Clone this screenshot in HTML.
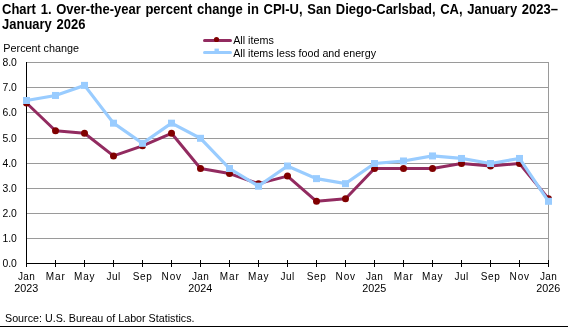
<!DOCTYPE html>
<html><head><meta charset="utf-8"><style>
html,body{margin:0;padding:0;background:#fff;width:568px;height:327px;overflow:hidden}
svg{display:block;will-change:transform}
text{font-family:"Liberation Sans",sans-serif;fill:#000}
.tt{font-weight:bold;font-size:14.4px;word-spacing:1.2px}
.yl{font-size:10.4px}
.xl{font-size:10px}
.lg{font-size:11px}
</style></head><body>
<svg width="568" height="327" viewBox="0 0 568 327">
<line x1="26.5" y1="238.5" x2="548.5" y2="238.5" stroke="#9a9a9a" stroke-width="1"/>
<line x1="26.5" y1="213.5" x2="548.5" y2="213.5" stroke="#9a9a9a" stroke-width="1"/>
<line x1="26.5" y1="188.5" x2="548.5" y2="188.5" stroke="#9a9a9a" stroke-width="1"/>
<line x1="26.5" y1="163.5" x2="548.5" y2="163.5" stroke="#9a9a9a" stroke-width="1"/>
<line x1="26.5" y1="138.5" x2="548.5" y2="138.5" stroke="#9a9a9a" stroke-width="1"/>
<line x1="26.5" y1="112.5" x2="548.5" y2="112.5" stroke="#9a9a9a" stroke-width="1"/>
<line x1="26.5" y1="87.5" x2="548.5" y2="87.5" stroke="#9a9a9a" stroke-width="1"/>
<line x1="26.5" y1="62.5" x2="548.5" y2="62.5" stroke="#9a9a9a" stroke-width="1"/>
<line x1="548.5" y1="62" x2="548.5" y2="263.5" stroke="#9a9a9a" stroke-width="1"/>
<line x1="26.5" y1="62" x2="26.5" y2="264" stroke="#000" stroke-width="1"/>
<line x1="26" y1="263.5" x2="549" y2="263.5" stroke="#000" stroke-width="1"/>
<line x1="26.5" y1="260" x2="26.5" y2="267" stroke="#000" stroke-width="1"/>
<line x1="55.5" y1="260" x2="55.5" y2="267" stroke="#000" stroke-width="1"/>
<line x1="84.5" y1="260" x2="84.5" y2="267" stroke="#000" stroke-width="1"/>
<line x1="113.5" y1="260" x2="113.5" y2="267" stroke="#000" stroke-width="1"/>
<line x1="142.5" y1="260" x2="142.5" y2="267" stroke="#000" stroke-width="1"/>
<line x1="171.5" y1="260" x2="171.5" y2="267" stroke="#000" stroke-width="1"/>
<line x1="200.5" y1="260" x2="200.5" y2="267" stroke="#000" stroke-width="1"/>
<line x1="229.5" y1="260" x2="229.5" y2="267" stroke="#000" stroke-width="1"/>
<line x1="258.5" y1="260" x2="258.5" y2="267" stroke="#000" stroke-width="1"/>
<line x1="287.5" y1="260" x2="287.5" y2="267" stroke="#000" stroke-width="1"/>
<line x1="316.5" y1="260" x2="316.5" y2="267" stroke="#000" stroke-width="1"/>
<line x1="345.5" y1="260" x2="345.5" y2="267" stroke="#000" stroke-width="1"/>
<line x1="374.5" y1="260" x2="374.5" y2="267" stroke="#000" stroke-width="1"/>
<line x1="403.5" y1="260" x2="403.5" y2="267" stroke="#000" stroke-width="1"/>
<line x1="432.5" y1="260" x2="432.5" y2="267" stroke="#000" stroke-width="1"/>
<line x1="461.5" y1="260" x2="461.5" y2="267" stroke="#000" stroke-width="1"/>
<line x1="490.5" y1="260" x2="490.5" y2="267" stroke="#000" stroke-width="1"/>
<line x1="519.5" y1="260" x2="519.5" y2="267" stroke="#000" stroke-width="1"/>
<line x1="548.5" y1="260" x2="548.5" y2="267" stroke="#000" stroke-width="1"/>
<text x="16.9" y="267.20" text-anchor="end" class="yl">0.0</text>
<text x="16.9" y="242.20" text-anchor="end" class="yl">1.0</text>
<text x="16.9" y="217.20" text-anchor="end" class="yl">2.0</text>
<text x="16.9" y="192.20" text-anchor="end" class="yl">3.0</text>
<text x="16.9" y="167.20" text-anchor="end" class="yl">4.0</text>
<text x="16.9" y="142.20" text-anchor="end" class="yl">5.0</text>
<text x="16.9" y="116.20" text-anchor="end" class="yl">6.0</text>
<text x="16.9" y="91.20" text-anchor="end" class="yl">7.0</text>
<text x="16.9" y="66.20" text-anchor="end" class="yl">8.0</text>
<text x="26.30" y="279.8" text-anchor="middle" class="xl" textLength="16.8" lengthAdjust="spacing">Jan</text>
<text x="55.30" y="279.8" text-anchor="middle" class="xl" textLength="19.2" lengthAdjust="spacing">Mar</text>
<text x="84.30" y="279.8" text-anchor="middle" class="xl" textLength="20.4" lengthAdjust="spacing">May</text>
<text x="113.30" y="279.8" text-anchor="middle" class="xl" textLength="13.8" lengthAdjust="spacing">Jul</text>
<text x="142.30" y="279.8" text-anchor="middle" class="xl" textLength="19.0" lengthAdjust="spacing">Sep</text>
<text x="171.30" y="279.8" text-anchor="middle" class="xl" textLength="19.5" lengthAdjust="spacing">Nov</text>
<text x="200.30" y="279.8" text-anchor="middle" class="xl" textLength="16.8" lengthAdjust="spacing">Jan</text>
<text x="229.30" y="279.8" text-anchor="middle" class="xl" textLength="19.2" lengthAdjust="spacing">Mar</text>
<text x="258.30" y="279.8" text-anchor="middle" class="xl" textLength="20.4" lengthAdjust="spacing">May</text>
<text x="287.30" y="279.8" text-anchor="middle" class="xl" textLength="13.8" lengthAdjust="spacing">Jul</text>
<text x="316.30" y="279.8" text-anchor="middle" class="xl" textLength="19.0" lengthAdjust="spacing">Sep</text>
<text x="345.30" y="279.8" text-anchor="middle" class="xl" textLength="19.5" lengthAdjust="spacing">Nov</text>
<text x="374.30" y="279.8" text-anchor="middle" class="xl" textLength="16.8" lengthAdjust="spacing">Jan</text>
<text x="403.30" y="279.8" text-anchor="middle" class="xl" textLength="19.2" lengthAdjust="spacing">Mar</text>
<text x="432.30" y="279.8" text-anchor="middle" class="xl" textLength="20.4" lengthAdjust="spacing">May</text>
<text x="461.30" y="279.8" text-anchor="middle" class="xl" textLength="13.8" lengthAdjust="spacing">Jul</text>
<text x="490.30" y="279.8" text-anchor="middle" class="xl" textLength="19.0" lengthAdjust="spacing">Sep</text>
<text x="519.30" y="279.8" text-anchor="middle" class="xl" textLength="19.5" lengthAdjust="spacing">Nov</text>
<text x="548.30" y="279.8" text-anchor="middle" class="xl" textLength="16.8" lengthAdjust="spacing">Jan</text>
<text x="26.30" y="292.2" text-anchor="middle" class="xl" textLength="24" lengthAdjust="spacingAndGlyphs">2023</text>
<text x="200.30" y="292.2" text-anchor="middle" class="xl" textLength="24" lengthAdjust="spacingAndGlyphs">2024</text>
<text x="374.30" y="292.2" text-anchor="middle" class="xl" textLength="24" lengthAdjust="spacingAndGlyphs">2025</text>
<text x="548.30" y="292.2" text-anchor="middle" class="xl" textLength="24" lengthAdjust="spacingAndGlyphs">2026</text>
<polyline points="26.50,103.02 55.50,130.74 84.50,133.26 113.50,155.94 142.50,145.86 171.50,133.26 200.50,168.54 229.50,173.58 258.50,183.66 287.50,176.10 316.50,201.30 345.50,198.78 374.50,168.54 403.50,168.54 432.50,168.54 461.50,163.50 490.50,166.02 519.50,163.50 548.50,198.78" fill="none" stroke="#922b60" stroke-width="3" stroke-linejoin="round"/>
<circle cx="26.50" cy="103.02" r="3.5" fill="#800000"/>
<circle cx="55.50" cy="130.74" r="3.5" fill="#800000"/>
<circle cx="84.50" cy="133.26" r="3.5" fill="#800000"/>
<circle cx="113.50" cy="155.94" r="3.5" fill="#800000"/>
<circle cx="142.50" cy="145.86" r="3.5" fill="#800000"/>
<circle cx="171.50" cy="133.26" r="3.5" fill="#800000"/>
<circle cx="200.50" cy="168.54" r="3.5" fill="#800000"/>
<circle cx="229.50" cy="173.58" r="3.5" fill="#800000"/>
<circle cx="258.50" cy="183.66" r="3.5" fill="#800000"/>
<circle cx="287.50" cy="176.10" r="3.5" fill="#800000"/>
<circle cx="316.50" cy="201.30" r="3.5" fill="#800000"/>
<circle cx="345.50" cy="198.78" r="3.5" fill="#800000"/>
<circle cx="374.50" cy="168.54" r="3.5" fill="#800000"/>
<circle cx="403.50" cy="168.54" r="3.5" fill="#800000"/>
<circle cx="432.50" cy="168.54" r="3.5" fill="#800000"/>
<circle cx="461.50" cy="163.50" r="3.5" fill="#800000"/>
<circle cx="490.50" cy="166.02" r="3.5" fill="#800000"/>
<circle cx="519.50" cy="163.50" r="3.5" fill="#800000"/>
<circle cx="548.50" cy="198.78" r="3.5" fill="#800000"/>
<polyline points="26.50,100.50 55.50,95.46 84.50,85.38 113.50,123.18 142.50,143.34 171.50,123.18 200.50,138.30 229.50,168.54 258.50,186.18 287.50,166.02 316.50,178.62 345.50,183.66 374.50,163.50 403.50,160.98 432.50,155.94 461.50,158.46 490.50,163.50 519.50,158.46 548.50,201.30" fill="none" stroke="#99ccff" stroke-width="3.2" stroke-linejoin="miter"/>
<rect x="23.00" y="97.00" width="7" height="7" fill="#99ccff"/>
<rect x="52.00" y="91.96" width="7" height="7" fill="#99ccff"/>
<rect x="81.00" y="81.88" width="7" height="7" fill="#99ccff"/>
<rect x="110.00" y="119.68" width="7" height="7" fill="#99ccff"/>
<rect x="139.00" y="139.84" width="7" height="7" fill="#99ccff"/>
<rect x="168.00" y="119.68" width="7" height="7" fill="#99ccff"/>
<rect x="197.00" y="134.80" width="7" height="7" fill="#99ccff"/>
<rect x="226.00" y="165.04" width="7" height="7" fill="#99ccff"/>
<rect x="255.00" y="182.68" width="7" height="7" fill="#99ccff"/>
<rect x="284.00" y="162.52" width="7" height="7" fill="#99ccff"/>
<rect x="313.00" y="175.12" width="7" height="7" fill="#99ccff"/>
<rect x="342.00" y="180.16" width="7" height="7" fill="#99ccff"/>
<rect x="371.00" y="160.00" width="7" height="7" fill="#99ccff"/>
<rect x="400.00" y="157.48" width="7" height="7" fill="#99ccff"/>
<rect x="429.00" y="152.44" width="7" height="7" fill="#99ccff"/>
<rect x="458.00" y="154.96" width="7" height="7" fill="#99ccff"/>
<rect x="487.00" y="160.00" width="7" height="7" fill="#99ccff"/>
<rect x="516.00" y="154.96" width="7" height="7" fill="#99ccff"/>
<rect x="545.00" y="197.80" width="7" height="7" fill="#99ccff"/>
<line x1="204.5" y1="40.4" x2="230.5" y2="40.4" stroke="#922b60" stroke-width="3" stroke-linecap="round"/>
<circle cx="216.5" cy="39.5" r="2.6" fill="#800000"/>
<line x1="204.5" y1="52.6" x2="230.5" y2="52.6" stroke="#99ccff" stroke-width="3" stroke-linecap="round"/>
<rect x="214.5" y="48.6" width="4.4" height="4" fill="#99ccff"/>
<text x="233.2" y="43.6" class="lg" textLength="40.6" lengthAdjust="spacingAndGlyphs">All items</text>
<text x="233.2" y="56.6" class="lg" textLength="142.8" lengthAdjust="spacingAndGlyphs">All items less food and energy</text>
<text x="3.3" y="52" class="lg" textLength="75.8" lengthAdjust="spacingAndGlyphs">Percent change</text>
<text x="5" y="321.9" class="lg" textLength="189.5" lengthAdjust="spacingAndGlyphs">Source: U.S. Bureau of Labor Statistics.</text>
<text x="2" y="14.0" class="tt" textLength="556" lengthAdjust="spacingAndGlyphs">Chart 1. Over-the-year percent change in CPI-U, San Diego-Carlsbad, CA, January 2023–</text>
<text x="2" y="28.8" class="tt" textLength="83.4" lengthAdjust="spacingAndGlyphs">January 2026</text>
<rect x="0" y="326" width="568" height="1" fill="#000"/>
</svg>
</body></html>
